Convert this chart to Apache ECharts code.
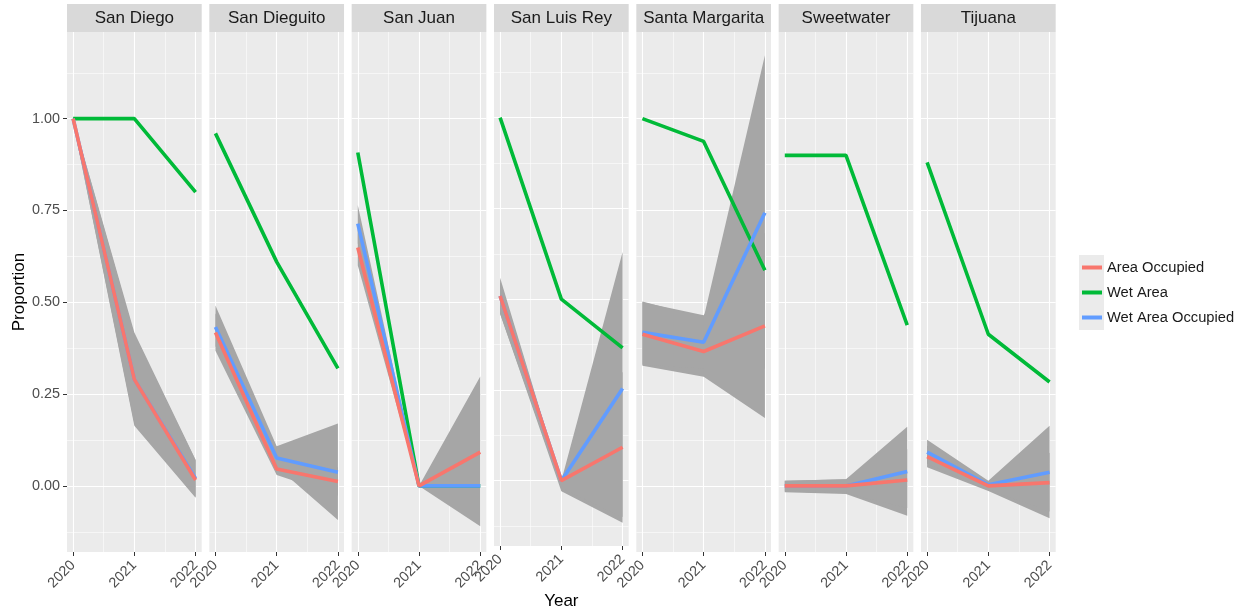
<!DOCTYPE html>
<html lang="en">
<head>
<meta charset="UTF-8">
<title>Occupancy by watershed</title>
<script src="https://cdn.jsdelivr.net/npm/echarts@6/dist/echarts.min.js"></script>
<style>
  html, body { margin: 0; padding: 0; background: #fff; }
</style>
</head>
<body>
<div id="app" style="width:1245px;height:615px"></div>
<script>
// data
var years = [2020, 2021, 2022];
var rivers = ['San Diego', 'San Dieguito', 'San Juan', 'San Luis Rey', 'Santa Margarita', 'Sweetwater', 'Tijuana'];

var wetArea = [
  [1.00, 1.00, 0.80],
  [0.96, 0.61, 0.32],
  [0.908, 0.00, 0.00],
  [1.00, 0.50, 0.366],
  [1.00, 0.938, 0.587],
  [0.90, 0.90, 0.438],
  [0.881, 0.413, 0.283]
];
var areaOccupied = [
  [1.00, 0.29, 0.016],
  [0.418, 0.046, 0.012],
  [0.649, 0.00, 0.092],
  [0.509, 0.00, 0.092],
  [0.413, 0.366, 0.436],
  [0.00, 0.00, 0.016],
  [0.080, 0.00, 0.009]
];
var wetAreaOccupied = [
  [1.00, 0.29, 0.02],
  [0.433, 0.076, 0.037],
  [0.714, 0.00, 0.00],
  [0.509, 0.00, 0.254],
  [0.418, 0.391, 0.744],
  [0.00, 0.00, 0.039],
  [0.092, 0.003, 0.037]
];

// confidence ribbons (lower / upper)
var aoLow = [
  [0.99, 0.164, -0.032],
  [0.368, 0.030, -0.026],
  [0.60, 0.00, -0.110],
  [0.46, -0.029, -0.116],
  [0.327, 0.297, 0.185],
  [-0.017, -0.022, -0.081],
  [0.051, -0.014, -0.088]
];
var aoHigh = [
  [1.00, 0.418, 0.071],
  [0.47, 0.07, 0.05],
  [0.70, 0.00, 0.298],
  [0.559, 0.00, 0.30],
  [0.50, 0.465, 0.69],
  [0.014, 0.018, 0.10],
  [0.11, 0.01, 0.09]
];
var waoLow = [
  [0.99, 0.17, -0.03],
  [0.38, 0.052, -0.093],
  [0.66, 0.00, 0.00],
  [0.46, -0.02, -0.10],
  [0.33, 0.32, 0.32],
  [-0.015, -0.02, -0.06],
  [0.06, -0.01, -0.07]
];
var waoHigh = [
  [1.00, 0.41, 0.07],
  [0.491, 0.108, 0.170],
  [0.765, 0.00, 0.00],
  [0.55, 0.00, 0.63],
  [0.502, 0.458, 1.173],
  [0.014, 0.018, 0.161],
  [0.126, 0.014, 0.164]
];

var yMajor = [0, 0.25, 0.5, 0.75, 1];
var yMinor = [-0.125, 0.125, 0.375, 0.625, 0.875, 1.125];
var xMinor = [2020.5, 2021.5];

var FONT = 'Liberation Sans, Arial, Helvetica, sans-serif';
var colAO = '#F8766D', colWet = '#00BA38', colWAO = '#619CFF', colRibbon = '#A6A6A6';

var panelLeft = 67, panelStep = 142.33, panelW = 134.7, panelTop = 32, panelH = 520;

var grids = [], xAxes = [], yAxes = [], series = [], graphics = [];

function pairs(arr) {
  return years.map(function (y, k) { return [y, arr[k]]; });
}

// one polygon per ribbon: lower edge left->right, upper edge right->left
function ribbonItem(params, api) {
  var pts = [];
  for (var k = 0; k < 3; k++) pts.push(api.coord([api.value(k), api.value(3 + k)]));
  for (var k2 = 2; k2 >= 0; k2--) pts.push(api.coord([api.value(k2), api.value(6 + k2)]));
  return { type: 'polygon', shape: { points: pts }, style: { fill: colRibbon } };
}

for (var i = 0; i < rivers.length; i++) {
  var left = panelLeft + i * panelStep;
  grids.push({
    left: left, top: panelTop, width: panelW, height: panelH,
    show: true, backgroundColor: '#EBEBEB', borderWidth: 0
  });

  // major x
  xAxes.push({
    gridIndex: i, type: 'value', min: 2019.9, max: 2022.1,
    axisLine: { show: false, onZero: false },
    axisTick: { show: true, customValues: years, length: 4, lineStyle: { color: '#333333', width: 1 } },
    axisLabel: {
      customValues: years, rotate: 45, margin: 11, fontSize: 14.4, color: '#4D4D4D', fontFamily: FONT,
      formatter: function (v) { return String(v); }
    },
    splitLine: { show: true, lineStyle: { color: '#FFFFFF', width: 1.1 } },
    name: i === 3 ? 'Year' : '',
    nameLocation: 'middle', nameGap: 47,
    nameTextStyle: { fontSize: 17, color: '#000000', fontFamily: FONT }
  });
  // minor x
  xAxes.push({
    gridIndex: i, type: 'value', position: 'top', min: 2019.9, max: 2022.1,
    axisLine: { show: false, onZero: false },
    axisTick: { show: false, customValues: xMinor },
    axisLabel: { show: false, customValues: xMinor },
    splitLine: { show: true, lineStyle: { color: '#FFFFFF', width: 0.55 } }
  });
  // major y
  yAxes.push({
    gridIndex: i, type: 'value', min: -0.18, max: 1.236,
    axisLine: { show: false, onZero: false },
    axisTick: { show: i === 0, customValues: yMajor, length: 4, lineStyle: { color: '#333333', width: 1 } },
    axisLabel: {
      show: i === 0, customValues: yMajor, margin: 7, fontSize: 14.4, color: '#4D4D4D', fontFamily: FONT,
      formatter: function (v) { return v.toFixed(2); }
    },
    splitLine: { show: true, lineStyle: { color: '#FFFFFF', width: 1.1 } },
    name: i === 0 ? 'Proportion' : '',
    nameLocation: 'middle', nameGap: 39,
    nameTextStyle: { fontSize: 17, color: '#000000', fontFamily: FONT }
  });
  // minor y
  yAxes.push({
    gridIndex: i, type: 'value', position: 'right', min: -0.18, max: 1.236,
    axisLine: { show: false, onZero: false },
    axisTick: { show: false, customValues: yMinor },
    axisLabel: { show: false, customValues: yMinor },
    splitLine: { show: true, lineStyle: { color: '#FFFFFF', width: 0.55 } }
  });

  var xi = 2 * i, yi = 2 * i;
  series.push({
    type: 'custom', name: 'ribbon', xAxisIndex: xi, yAxisIndex: yi,
    renderItem: ribbonItem,
    data: [
      years.concat(aoLow[i], aoHigh[i]),
      years.concat(waoLow[i], waoHigh[i])
    ],
    encode: { x: [0, 1, 2], y: [3, 4, 5, 6, 7, 8] },
    silent: true, z: 2
  });

  [['Wet Area', wetArea, colWet], ['Wet Area Occupied', wetAreaOccupied, colWAO], ['Area Occupied', areaOccupied, colAO]]
    .forEach(function (s) {
      series.push({
        type: 'line', name: s[0], xAxisIndex: xi, yAxisIndex: yi,
        data: pairs(s[1][i]), symbol: 'none', showSymbol: false,
        lineStyle: { width: 3.6, color: s[2] }, itemStyle: { color: s[2] },
        silent: true, z: 3
      });
    });

  // facet strip
  graphics.push({
    type: 'rect', shape: { x: left, y: 4, width: panelW, height: 28 },
    style: { fill: '#D9D9D9' }, silent: true
  });
  graphics.push({
    type: 'text', x: left + panelW / 2, y: 18.5,
    style: {
      text: rivers[i], fontSize: 17, fontFamily: FONT, fill: '#1A1A1A',
      align: 'center', verticalAlign: 'middle', textAlign: 'center', textVerticalAlign: 'middle'
    },
    silent: true
  });
}

// legend key background
graphics.push({
  type: 'rect', shape: { x: 1079, y: 255, width: 25, height: 75 },
  style: { fill: '#EBEBEB' }, silent: true, z: -1
});

var myChart = echarts.init(document.getElementById('app'));
myChart.setOption({
  animation: false,
  textStyle: { fontFamily: FONT },
  grid: grids,
  xAxis: xAxes,
  yAxis: yAxes,
  legend: {
    orient: 'vertical', left: 1082, top: 255, padding: 0,
    itemWidth: 20, itemHeight: 4, itemGap: 0, itemTextGap: 10, icon: 'rect',
    textStyle: { fontSize: 14.7, color: '#1A1A1A', lineHeight: 25, fontFamily: FONT },
    data: ['Area Occupied', 'Wet Area', 'Wet Area Occupied'],
    selectedMode: false
  },
  graphic: graphics,
  series: series
});
</script>
</body>
</html>
